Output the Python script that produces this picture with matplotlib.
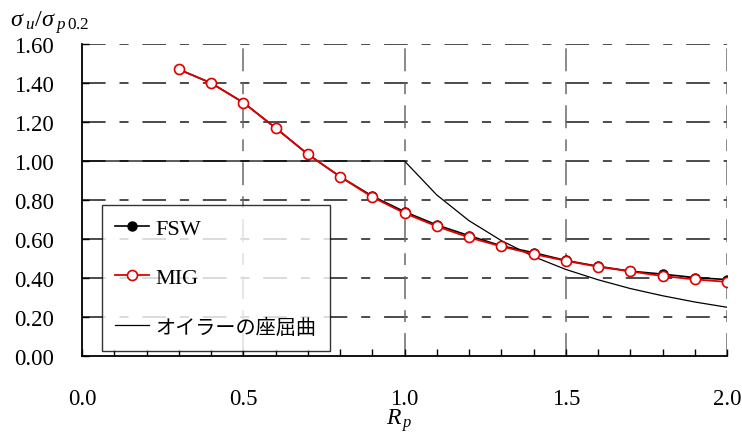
import matplotlib
matplotlib.use("Agg")
import matplotlib.pyplot as plt
from matplotlib.ticker import MultipleLocator, FormatStrFormatter

# Slenderness parameter R_p and normalised ultimate strength
rp = [0.3, 0.4, 0.5, 0.6, 0.7, 0.8, 0.9, 1.0, 1.1, 1.2, 1.3, 1.4, 1.5, 1.6, 1.7, 1.8, 1.9, 2.0]
fsw = [1.47, 1.40, 1.30, 1.17, 1.035, 0.92, 0.82, 0.74, 0.672, 0.617, 0.565, 0.530, 0.490, 0.460, 0.435, 0.420, 0.402, 0.392]
mig = [1.47, 1.40, 1.30, 1.17, 1.035, 0.92, 0.815, 0.733, 0.665, 0.608, 0.562, 0.523, 0.488, 0.458, 0.434, 0.410, 0.393, 0.380]

# Euler buckling curve
euler_x = [0.0, 1.0, 1.1, 1.2, 1.3, 1.4, 1.5, 1.6, 1.7, 1.8, 1.9, 2.0]
euler_y = [1.0, 1.0, 0.826, 0.694, 0.592, 0.510, 0.444, 0.391, 0.346, 0.309, 0.277, 0.250]

labels = ["FSW", "MIG", "オイラーの座屈曲"]

plt.rcParams["font.family"] = ["Liberation Serif", "Noto Sans CJK JP"]
plt.rcParams["mathtext.fontset"] = "custom"
plt.rcParams["mathtext.rm"] = "Liberation Serif"
plt.rcParams["mathtext.it"] = "Liberation Serif:italic"
plt.rcParams["lines.scale_dashes"] = False

W, H = 742, 435
fig = plt.figure(figsize=(W / 100, H / 100), dpi=100)
ax = fig.add_axes([82 / W, 1 - 357 / H, (727 - 82) / W, (357 - 45) / H])

ax.set_xlim(0, 2.0)
ax.set_ylim(0, 1.6)

# grid: dashed horizontals, dash-dot verticals
for yv in [0.2, 0.4, 0.6, 0.8, 1.0, 1.2, 1.4, 1.6]:
    ax.axhline(yv, color="#1a1a1a", lw=1.1, dashes=(17, 10, 6.5, 10), zorder=1)
for xv in [0.5, 1.0, 1.5, 2.0]:
    ax.axvline(xv, color="#6a6a6a", lw=1.1, dashes=(16.5, 8, 8.5, 8), zorder=1)

ax.plot(euler_x, euler_y, color="black", lw=0.9, zorder=3, label=labels[2])
ax.plot(rp, fsw, color="black", lw=1.2, marker="o", markersize=6.5,
        markerfacecolor="black", markeredgecolor="black", zorder=4, label=labels[0])
ax.plot(rp, mig, color="#e00000", lw=1.3, marker="o", markersize=7.2,
        markerfacecolor="white", markeredgecolor="#e00000", markeredgewidth=1.2,
        zorder=5, label=labels[1])

for s in ["top", "right"]:
    ax.spines[s].set_visible(False)
for s in ["left", "bottom"]:
    ax.spines[s].set_linewidth(1.3)
    ax.spines[s].set_color("black")

ax.xaxis.set_major_locator(MultipleLocator(0.5))
ax.xaxis.set_minor_locator(MultipleLocator(0.1))
ax.yaxis.set_major_locator(MultipleLocator(0.2))
ax.xaxis.set_major_formatter(FormatStrFormatter("%.1f"))
ax.yaxis.set_major_formatter(FormatStrFormatter("%.2f"))
ax.tick_params(axis="x", which="both", direction="in", length=5, width=1.0,
               labelsize=16.5, pad=23)
ax.tick_params(axis="y", which="both", direction="in", length=5, width=1.0,
               labelsize=16.5, pad=20)

handles, labs = ax.get_legend_handles_labels()
order = [1, 2, 0]
leg = ax.legend([handles[i] for i in order], [labs[i] for i in order],
                loc="lower left", bbox_to_anchor=(102 / W, 1 - 352 / H),
                bbox_transform=fig.transFigure, frameon=True, fancybox=False,
                edgecolor="black", fontsize=16, handlelength=1.5,
                handletextpad=0.3, labelspacing=1.3, borderpad=0.6,
                borderaxespad=0)
leg.get_texts()[2].set_fontsize(14.5)
leg.get_frame().set_linewidth(1.0)
leg.set_zorder(6)

fig.text(10 / W, 1 - 27 / H, r"$\sigma_{\;u}/\sigma_{\;p\,\mathrm{0.2}}$",
         fontsize=17.5, ha="left", va="baseline")
fig.text(386 / W, 1 - 425 / H, r"$R_{\,p}$", fontsize=17,
         ha="left", va="baseline")

fig.savefig("out.png", dpi=100, facecolor="white")
